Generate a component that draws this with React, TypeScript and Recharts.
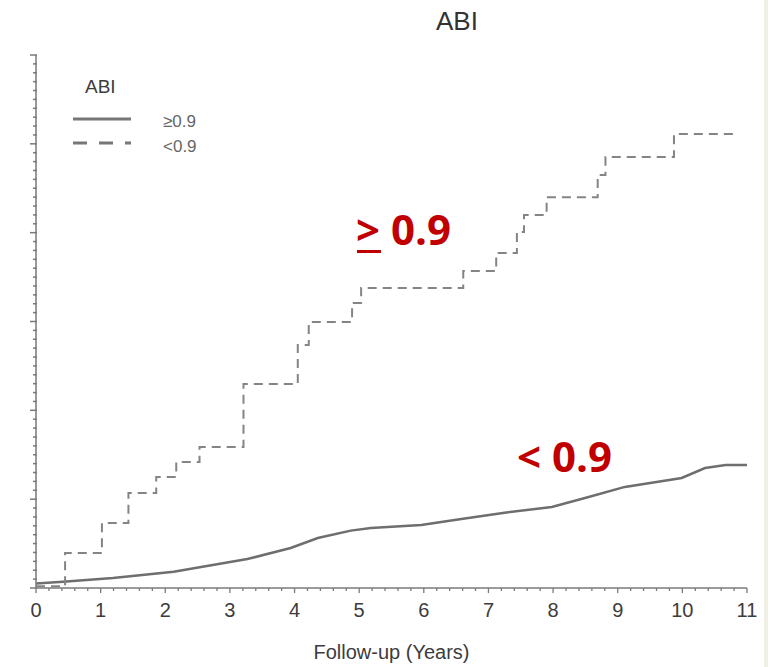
import { Legend, Line, LineChart, XAxis, YAxis } from "recharts";

// Cumulative incidence (no scale printed on the y axis), years of follow-up
const lowAbiYears = [0, 0.45, 1.02, 1.43, 1.86, 2.17, 2.53, 3.21, 4.05, 4.22, 4.89, 5.03, 6.61, 7.12, 7.44, 7.55, 7.9, 8.69, 8.81, 9.87, 10.81];
const lowAbiValues = [0.1, 1.97, 3.66, 5.35, 6.25, 7.09, 7.94, 11.48, 13.68, 14.97, 16.04, 16.89, 17.84, 18.86, 20.04, 21.0, 22.0, 23.25, 24.26, 25.55, 25.55];

const normalAbiYears = [0, 0.42, 1.19, 2.13, 3.27, 3.94, 4.36, 4.87, 5.18, 5.96, 6.58, 7.25, 7.98, 8.55, 9.11, 9.99, 10.35, 10.67, 11];
const normalAbiValues = [0.25, 0.35, 0.56, 0.92, 1.63, 2.25, 2.81, 3.23, 3.38, 3.55, 3.88, 4.24, 4.56, 5.12, 5.69, 6.19, 6.75, 6.92, 6.92];

const yearTicks = [0, 1, 2, 3, 4, 5, 6, 7, 8, 9, 10, 11];
const yMajorTicks = [0, 5, 10, 15, 20, 25, 30];

const lowAbi = lowAbiYears.map((t, i) => ({ t, v: lowAbiValues[i] }));
const normalAbi = normalAbiYears.map((t, i) => ({ t, v: normalAbiValues[i] }));

const xTicks = yearTicks.flatMap((y, i) => (i === yearTicks.length - 1 ? [y] : [0, 0.2, 0.4, 0.6, 0.8].map((f) => y + f)));
const yTicks = yMajorTicks.flatMap((y, i) => (i === yMajorTicks.length - 1 ? [y] : [0, 0.5, 1, 1.5, 2, 2.5, 3, 3.5, 4, 4.5].map((f) => y + f)));

const isMajor = (v: number, step: number) => Math.abs(v / step - Math.round(v / step)) < 1e-6;
const axisGrey = "#7a7a7a";
const font = '"Liberation Sans", Arial, sans-serif';

function XTick({ x, y, payload }: any) {
  const major = isMajor(payload.value, 1);
  return (
    <g>
      <line x1={x} x2={x} y1={y} y2={y + (major ? 5 : 3)} stroke={axisGrey} strokeWidth={1.3} />
      {major && (
        <text x={x} y={y + 29} textAnchor="middle" fontSize={20} fill="#3c3c3c" fontFamily={font}>
          {payload.value}
        </text>
      )}
    </g>
  );
}

function YTick({ x, y, payload }: any) {
  const major = isMajor(payload.value, 5);
  return <line x1={x - (major ? 6 : 3)} x2={x + 1} y1={y} y2={y} stroke={axisGrey} strokeWidth={1.5} />;
}

function AbiLegend() {
  return (
    <svg width={170} height={100} style={{ display: "block" }}>
      <text x={15} y={23} fontSize={19} fill="#3c3c3c" fontFamily={font}>ABI</text>
      <line x1={3} x2={61} y1={49} y2={49} stroke="#777" strokeWidth={3} />
      <line x1={3} x2={61} y1={73} y2={73} stroke="#777" strokeWidth={3} strokeDasharray="14 12" />
      <text x={93} y={57} fontSize={17} fill="#666" fontFamily={font}>≥0.9</text>
      <text x={93} y={82} fontSize={17} fill="#666" fontFamily={font}>&lt;0.9</text>
    </svg>
  );
}

export default function App() {
  return (
    <div style={{ position: "relative", width: 783, height: 667, background: "#fff", overflow: "hidden" }}>
      <style>{"body{margin:0}"}</style>
      <div style={{ position: "absolute", left: 0, width: 914, top: 6, textAlign: "center", fontFamily: font, fontSize: 26, color: "#333" }}>ABI</div>
      <LineChart width={783} height={667} margin={{ top: 55, right: 36, bottom: 0, left: 35 }}>
        <XAxis
          type="number"
          dataKey="t"
          domain={[0, 11]}
          ticks={xTicks}
          interval={0}
          tick={<XTick />}
          tickLine={false}
          tickSize={0}
          tickMargin={0}
          height={79}
          stroke={axisGrey}
          strokeWidth={1.5}
          label={{ value: "Follow-up (Years)", position: "insideBottom", offset: 8, fontSize: 20, fill: "#3c3c3c", fontFamily: font }}
        />
        <YAxis
          type="number"
          domain={[0, 30]}
          ticks={yTicks}
          interval={0}
          tick={<YTick />}
          tickLine={false}
          tickSize={0}
          tickMargin={0}
          width={1}
          stroke={axisGrey}
          strokeWidth={1.5}
        />
        <Legend
          layout="horizontal"
          verticalAlign="middle"
          align="center"
          content={<AbiLegend />}
          wrapperStyle={{ position: "absolute", left: 70, top: 70, width: 170 }}
        />
        <Line data={normalAbi} dataKey="v" type="linear" stroke="#6e6e6e" strokeWidth={2.5} dot={false} isAnimationActive={false} />
        <Line data={lowAbi} dataKey="v" type="stepAfter" stroke="#848484" strokeWidth={2} strokeDasharray="9 6" dot={false} isAnimationActive={false} />
      </LineChart>
      <svg width={783} height={667} style={{ position: "absolute", left: 0, top: 0, pointerEvents: "none" }}>
        <g fontFamily='"Open Sans", sans-serif' fontWeight={700} fontSize={42} fill="#c00000">
          <text x={356} y={245}>&gt; 0.9</text>
          <rect x={357} y={250} width={24} height={3} />
          <text x={517} y={472}>&lt; 0.9</text>
        </g>
      </svg>
      <div style={{ position: "absolute", left: 764, top: 0, width: 4, height: 667, background: "#f1f1e3" }} />
    </div>
  );
}
